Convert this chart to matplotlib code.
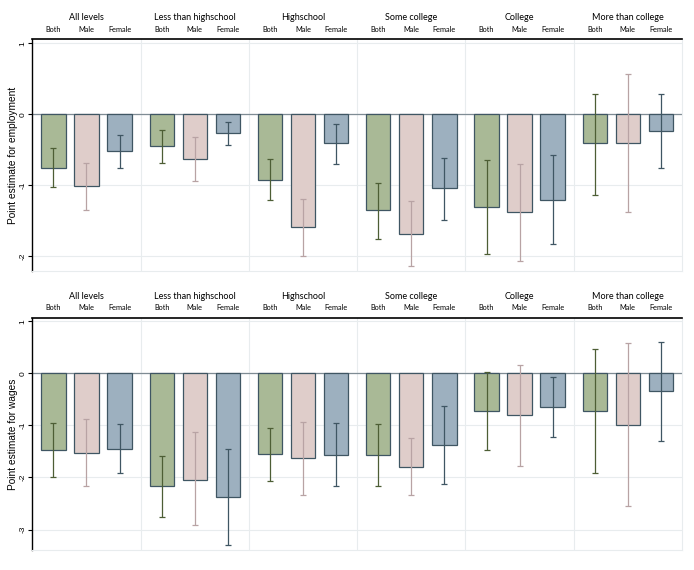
import matplotlib.pyplot as plt
import numpy as np

groups = ["All levels", "Less than highschool", "Highschool",
          "Some college", "College", "More than college"]
sexes = ["Both", "Male", "Female"]

# employment: point estimate, lower and upper CI, rows = groups, cols = Both/Male/Female
emp_est = [[-0.75, -1.01, -0.52],
           [-0.45, -0.63, -0.27],
           [-0.92, -1.59, -0.41],
           [-1.35, -1.68, -1.04],
           [-1.31, -1.38, -1.20],
           [-0.41, -0.41, -0.24]]
emp_lo = [[-1.03, -1.34, -0.76],
          [-0.68, -0.94, -0.43],
          [-1.20, -1.99, -0.70],
          [-1.75, -2.14, -1.49],
          [-1.97, -2.06, -1.82],
          [-1.13, -1.37, -0.76]]
emp_hi = [[-0.48, -0.69, -0.29],
          [-0.22, -0.32, -0.11],
          [-0.63, -1.19, -0.13],
          [-0.96, -1.22, -0.61],
          [-0.65, -0.70, -0.57],
          [0.29, 0.57, 0.29]]

# wages
wage_est = [[-1.48, -1.52, -1.46],
            [-2.17, -2.04, -2.38],
            [-1.55, -1.63, -1.57],
            [-1.57, -1.79, -1.38],
            [-0.73, -0.80, -0.65],
            [-0.73, -1.00, -0.34]]
wage_lo = [[-2.00, -2.17, -1.92],
           [-2.75, -2.92, -3.30],
           [-2.07, -2.34, -2.17],
           [-2.17, -2.34, -2.13],
           [-1.48, -1.77, -1.23],
           [-1.92, -2.55, -1.29]]
wage_hi = [[-0.96, -0.88, -0.98],
           [-1.59, -1.13, -1.46],
           [-1.04, -0.94, -0.96],
           [-0.98, -1.25, -0.63],
           [0.02, 0.16, -0.07],
           [0.47, 0.58, 0.60]]

fill_cols = ["#a9b996", "#dfcdca", "#9db0bf"]
err_cols = ["#4d5e35", "#b8a3a4", "#3f5663"]
edge_col = "#3f5663"
offsets = [0.195, 0.5, 0.805]
bw = 0.225

fig = plt.figure(figsize=(6.94, 5.70), dpi=100)
ax1 = fig.add_axes([0.0466, 0.524, 0.9361, 0.4076])
ax2 = fig.add_axes([0.0466, 0.0345, 0.9361, 0.4081])


def draw(ax, est, lo, hi, ylim, ticks, ylabel):
    est = np.array(est); lo = np.array(lo); hi = np.array(hi)
    for t in ticks:
        ax.axhline(t, color="#e8ecee", lw=0.8, zorder=0)
    for g in range(1, len(groups)):
        ax.axvline(g, color="#e8ecee", lw=0.8, zorder=0)
    ax.axhline(0, color="#7f8c94", lw=0.9, zorder=1)
    for j in range(3):
        x = np.arange(len(groups)) + offsets[j]
        ax.bar(x, est[:, j], width=bw, color=fill_cols[j], edgecolor=edge_col,
               linewidth=0.9, zorder=2)
        ax.errorbar(x, est[:, j], yerr=[est[:, j] - lo[:, j], hi[:, j] - est[:, j]],
                    fmt="none", ecolor=err_cols[j], elinewidth=0.9, capsize=2.2,
                    capthick=0.9, zorder=3)
    ax.set_xlim(0, len(groups))
    ax.set_ylim(*ylim)
    ax.set_xticks([])
    ax.set_yticks(ticks)
    ax.set_yticklabels([str(t) for t in ticks], rotation=90, va="center",
                       fontsize=6, family="Liberation Sans")
    ax.tick_params(axis="y", length=3, width=0.8, pad=1)
    ax.set_ylabel(ylabel, fontsize=7.3, family="Liberation Sans", labelpad=1)
    ax.spines["top"].set_linewidth(1.2)
    ax.spines["left"].set_linewidth(1.0)
    ax.spines["right"].set_color("#e8ecee")
    ax.spines["bottom"].set_color("#e8ecee")
    ax.spines["right"].set_linewidth(0.8)
    ax.spines["bottom"].set_linewidth(0.8)
    for g, name in enumerate(groups):
        ax.annotate(name, xy=(g + 0.5, 1), xycoords=("data", "axes fraction"),
                    xytext=(0, 15.5), textcoords="offset points",
                    ha="center", va="center", fontsize=6.5, family="Lato")
        for j, s in enumerate(sexes):
            ax.annotate(s, xy=(g + offsets[j], 1), xycoords=("data", "axes fraction"),
                        xytext=(0, 7), textcoords="offset points",
                        ha="center", va="center", fontsize=5.3, family="Lato")


draw(ax1, emp_est, emp_lo, emp_hi, (-2.21, 1.06), [-2, -1, 0, 1],
     "Point estimate for employment")
draw(ax2, wage_est, wage_lo, wage_hi, (-3.40, 1.07), [-3, -2, -1, 0, 1],
     "Point estimate for wages")

fig.savefig("out.png", dpi=100)
